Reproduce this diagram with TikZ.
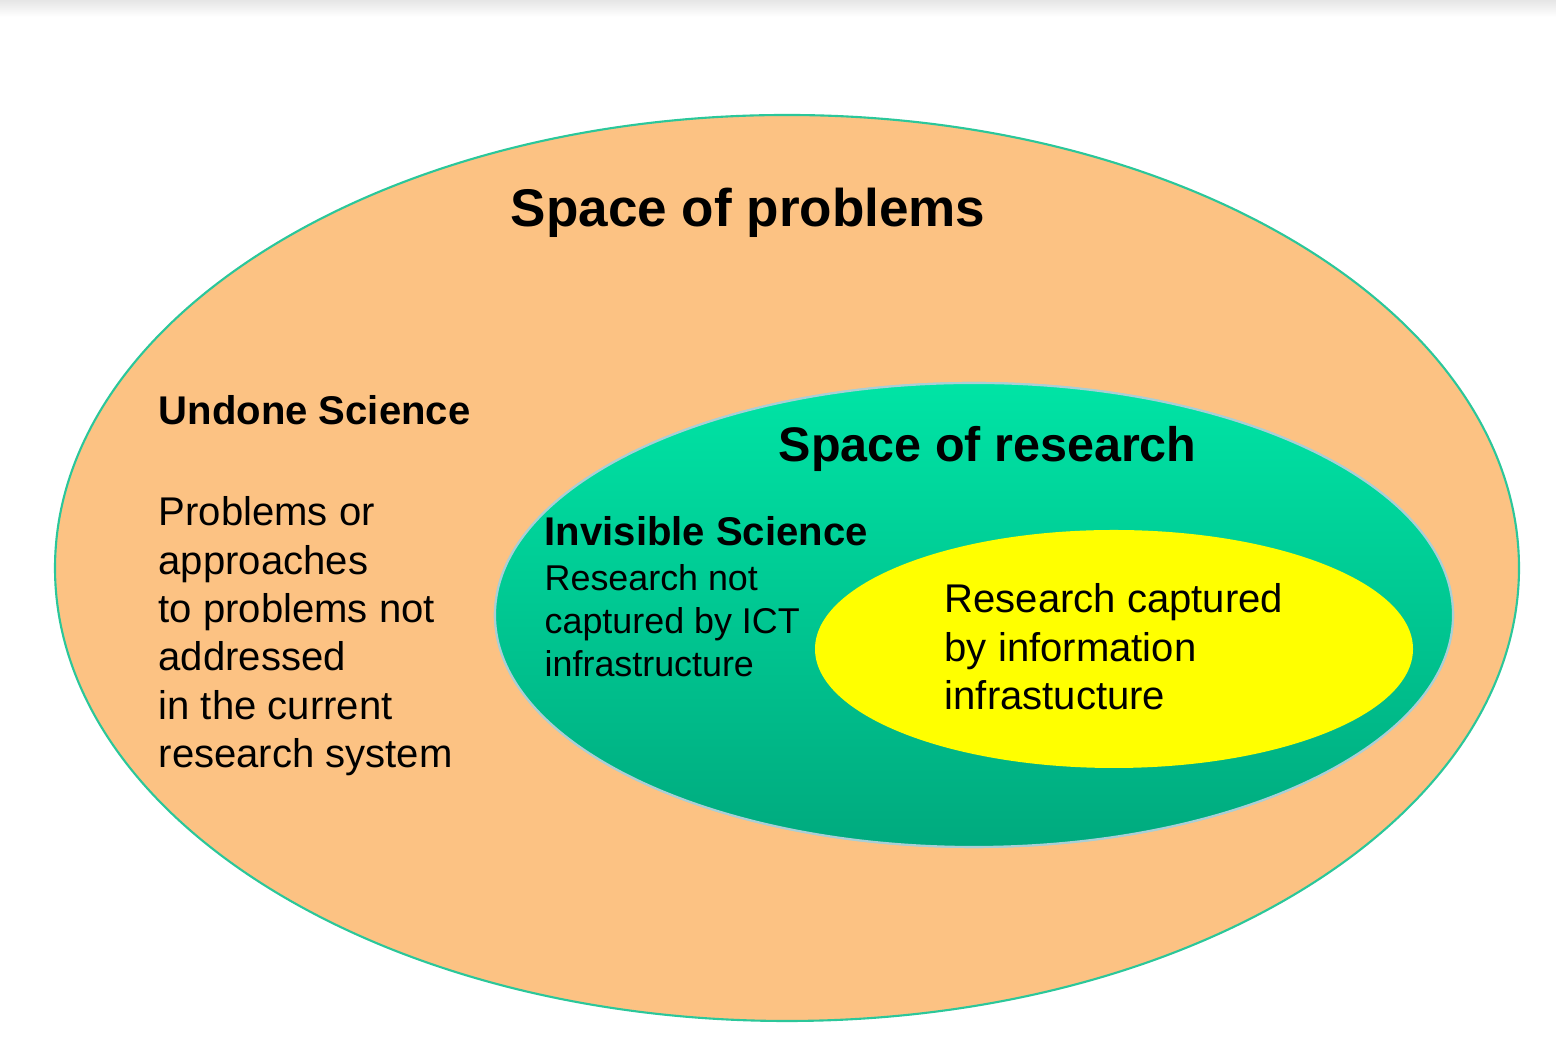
\documentclass[tikz,border=0pt]{standalone}
\usepackage{fontspec}
\setmainfont{Liberation Sans}
\usepackage{xcolor}
\usepackage{tikz}
\definecolor{probfill}{HTML}{FCC283}
\definecolor{probline}{HTML}{2BC79A}
\definecolor{restop}{HTML}{00E4A5}
\definecolor{resbot}{HTML}{00AA7E}
\definecolor{resline}{HTML}{A9CFD6}
\definecolor{capfill}{HTML}{FFFF00}
\tikzset{
  prob/.style={fill=probfill,draw=probline,line width=0.6pt},
  resh/.style={top color=restop,bottom color=resbot,draw=resline,line width=0.6pt},
  capt/.style={fill=capfill},
  big/.style={inner sep=0pt,anchor=base west,font=\fontsize{15.1}{18}\selectfont\bfseries},
  mid/.style={inner sep=0pt,anchor=base west,font=\fontsize{13.8}{16}\selectfont\bfseries},
  hd/.style={inner sep=0pt,anchor=base west,font=\fontsize{11.4}{13.7}\selectfont\bfseries},
  txt/.style={inner sep=0pt,anchor=north west,align=left,font=\fontsize{11.4}{13.75}\selectfont},
  sml/.style={inner sep=0pt,anchor=north west,align=left,font=\fontsize{10.2}{12.2}\selectfont}
}
\begin{document}
\begin{tikzpicture}
\useasboundingbox (0,0) rectangle (15.56,10.60);
\shade[top color=black!10,bottom color=white] (0,10.43) rectangle (15.56,10.60);
% the three nested spaces
\draw[prob] (7.87,4.92) ellipse [x radius=7.32,y radius=4.53];
\shade[resh] (9.74,4.45) ellipse [x radius=4.79,y radius=2.32];
\draw[resh] (9.74,4.45) ellipse [x radius=4.79,y radius=2.32];
\fill[capt] (11.14,4.11) ellipse [x radius=2.99,y radius=1.19];
% labels
\node[big] (problems) at (5.10,8.33) {Space of problems};
\node[mid] (research) at (7.78,5.98) {Space of research};
\node[hd] (undone) at (1.58,6.35) {Undone Science};
\node[txt] (undonetxt) at (1.58,5.64) {Problems or\\approaches\\to problems not\\addressed\\in the current\\research system};
\node[hd] (invisible) at (5.44,5.14) {Invisible Science};
\node[sml] (invisibletxt) at (5.44,4.96) {Research not\\captured by ICT\\infrastructure};
\node[txt] (captured) at (9.44,4.77) {Research captured\\by information\\infrastucture};
\end{tikzpicture}
\end{document}
